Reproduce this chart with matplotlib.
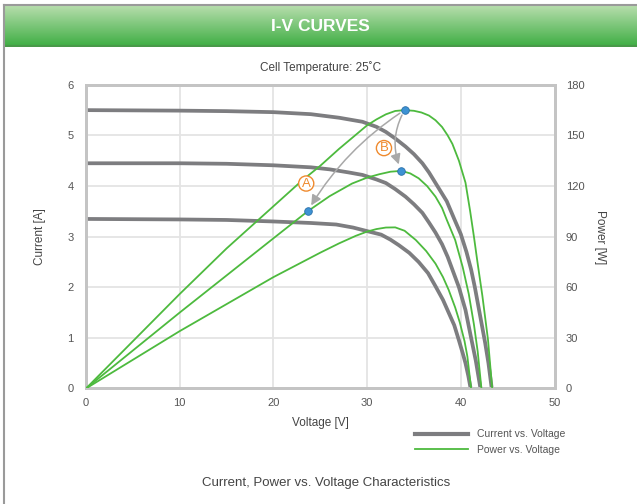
import matplotlib

matplotlib.use("Agg")
import matplotlib.pyplot as plt
import numpy as np
from matplotlib.lines import Line2D
from matplotlib.patches import FancyArrowPatch

plt.rcParams["font.family"] = ["Liberation Sans", "DejaVu Sans"]

# current vs voltage, three irradiance levels
v_i1 = [0, 10, 15, 20, 24, 27, 29.5, 31, 32, 33, 34.1, 35, 35.9, 36.6, 37.3, 37.9,
        38.5, 39.3, 40.0, 40.6, 41.1, 41.5, 41.9, 42.3, 42.6, 42.95, 43.3]
i_1 = [5.50, 5.49, 5.48, 5.46, 5.42, 5.35, 5.27, 5.17, 5.07, 4.94, 4.78, 4.63, 4.45, 4.27, 4.06, 3.88,
       3.70, 3.35, 3.05, 2.70, 2.35, 2.0, 1.6, 1.2, 0.9, 0.5, 0.0]
v_i2 = [0, 10, 15, 20, 24, 26, 28, 29.5, 31, 32, 33, 34.1, 35, 35.9, 36.6, 37.3, 38.0,
        38.6, 39.2, 39.8, 40.5, 41.1, 41.6, 42.1]
i_2 = [4.45, 4.45, 4.44, 4.41, 4.37, 4.33, 4.27, 4.22, 4.13, 4.06, 3.94, 3.79, 3.64, 3.47, 3.28, 3.08, 2.85,
       2.60, 2.30, 2.00, 1.55, 1.00, 0.55, 0.0]
v_i3 = [0, 10, 15, 20, 24, 26.7, 28.5, 30.2, 31.5, 32.5, 33.4, 34.5, 35.5, 36.5, 37.3, 38.1,
        38.7, 39.3, 39.8, 40.2, 40.5, 40.8, 41.05]
i_3 = [3.35, 3.34, 3.33, 3.30, 3.27, 3.24, 3.18, 3.10, 3.04, 2.94, 2.83, 2.68, 2.50, 2.28, 2.02, 1.75,
       1.50, 1.25, 0.95, 0.70, 0.50, 0.25, 0.0]

# power vs voltage
v_p1 = [0, 5, 10, 15, 20, 23, 25, 27, 28.5, 30, 31, 32, 33, 34, 35, 35.8, 36.6, 37.3, 38.0,
        38.6, 39.1, 39.8, 40.5, 41.0, 41.4, 41.8, 42.3, 42.9, 43.35]
p_1 = [0, 28, 56, 83, 108, 123, 132, 142, 149, 156, 159.5, 162.5, 164.5, 165, 164.6, 163.6, 161.8, 159, 155,
       150, 145, 135, 122, 105, 90, 74, 55, 29, 0]
v_p2 = [0, 5, 10, 15, 20, 23.65, 26, 28.4, 30, 31.3, 32.5, 33.65, 34.6, 35.5, 36.4, 37.3, 38.0,
        38.5, 39.4, 40.2, 40.85, 41.4, 41.8, 42.2]
p_2 = [0, 22.5, 45, 67, 89, 105, 114, 121.5, 125, 127, 128.5, 129, 127.5, 124.6, 120, 113.7, 107,
       100, 88, 72, 56, 38, 22, 0]
v_p3 = [0, 5, 10, 15, 20, 25, 27, 28.8, 30, 31, 32, 33, 34, 35.2, 36.3, 37.3, 38.1, 38.7,
        39.4, 39.9, 40.4, 40.7, 41.1]
p_3 = [0, 17, 34, 50, 66, 80.5, 86, 90.5, 93, 94.5, 95.4, 95.5, 93.5, 88, 81.5, 74, 66, 58.5,
       48, 39, 28, 19, 0]

# marked operating points: full power, case A, case B
mpp_v = [34.0, 23.65, 33.65]
mpp_p = [165, 105, 129]

GRAY = "#7d7d80"
GREEN = "#4dba3e"
ORANGE = "#ef8a2e"
TXT = "#444444"

fig = plt.figure(figsize=(6.37, 5.04), dpi=100)

# header band with gradient
hdr = fig.add_axes([0.0063, 0.9067, 0.9937, 0.0833])
top = np.array([0.72, 0.87, 0.68])
bot = np.array([0.24, 0.68, 0.26])
t = np.linspace(0, 1, 60)[:, None]
grad = top * (1 - t) + bot * t
grad[-3:] = [0.29, 0.60, 0.29]
hdr.imshow(grad[:, None, :], aspect="auto", extent=[0, 1, 0, 1])
hdr.set_axis_off()
hdr.text(0.5, 0.5, "I-V CURVES", color="white", fontsize=12.5, fontweight="bold",
         ha="center", va="center", transform=hdr.transAxes)

# page frame
fig.add_artist(Line2D([0.0063, 1], [0.990, 0.990], color="#9a9a9a", lw=1.5))
fig.add_artist(Line2D([0.0063, 0.0063], [0, 0.990], color="#9a9a9a", lw=1.5))

ax = fig.add_axes([0.135, 0.2292, 0.7355, 0.6025])
ax2 = ax.twinx()

for v, i in [(v_i1, i_1), (v_i2, i_2), (v_i3, i_3)]:
    ax.plot(v, i, color=GRAY, lw=2.7, solid_capstyle="butt", solid_joinstyle="round", zorder=3)
for v, p in [(v_p1, p_1), (v_p2, p_2), (v_p3, p_3)]:
    ax2.plot(v, p, color=GREEN, lw=1.3, solid_joinstyle="round", zorder=3)

ax.set_xlim(0, 50)
ax.set_ylim(0, 6)
ax2.set_ylim(0, 180)
ax.set_xticks(range(0, 51, 10))
ax.set_yticks(range(0, 7))
ax2.set_yticks(range(0, 181, 30))
ax.grid(True, color="#e4e4e4", lw=1.3)
ax.set_axisbelow(True)

for a in (ax, ax2):
    for s in a.spines.values():
        s.set_color("#c4c4c4")
        s.set_linewidth(2)
    a.tick_params(length=0, labelsize=8, labelcolor="#555555")
ax.tick_params(axis="x", pad=7)
ax.tick_params(axis="y", pad=9)
ax2.tick_params(axis="y", pad=8)

ax.set_title("Cell Temperature: 25˚C", fontsize=8.5, color=TXT, pad=10)
ax.set_xlabel("Voltage [V]", fontsize=8.5, color=TXT, labelpad=6)
ax.set_ylabel("Current [A]", fontsize=8.5, color=TXT, labelpad=15)
ax2.set_ylabel("Power [W]", fontsize=8.5, color=TXT, rotation=270, va="bottom", labelpad=7)

# arrows from the full-power point to A and B
arrow_kw = dict(arrowstyle="-|>,head_length=6,head_width=3", color="#a8a8a8", lw=1.1,
                shrinkA=4, shrinkB=5, zorder=4)
ax2.add_patch(FancyArrowPatch((mpp_v[0], mpp_p[0]), (mpp_v[1], mpp_p[1]),
                              connectionstyle="arc3,rad=0.12", **arrow_kw))
ax2.add_patch(FancyArrowPatch((mpp_v[0], mpp_p[0]), (mpp_v[2], mpp_p[2]),
                              connectionstyle="arc3,rad=0.25", **arrow_kw))
ax2.scatter(mpp_v, mpp_p, s=30, color="#3d92d4", edgecolor="#2a6fa8", lw=0.6, zorder=5)

circ = dict(boxstyle="circle,pad=0.12", fc="white", ec=ORANGE, lw=1.0)
ax2.text(23.5, 121.5, "A", color=ORANGE, fontsize=9.5, ha="center", va="center", bbox=circ, zorder=6)
ax2.text(31.8, 142.5, "B", color=ORANGE, fontsize=9.5, ha="center", va="center", bbox=circ, zorder=6)

handles = [Line2D([], [], color=GRAY, lw=3), Line2D([], [], color=GREEN, lw=1.3)]
fig.legend(handles, ["Current vs. Voltage", "Power vs. Voltage"], loc="center left",
           bbox_to_anchor=(0.651, 0.123), frameon=False, fontsize=7.5, handlelength=5.1,
           handletextpad=0.9, labelspacing=0.5, borderpad=0, borderaxespad=0, labelcolor="#555555")

fig.text(0.512, 0.042, "Current, Power vs. Voltage Characteristics", fontsize=9.5, color=TXT,
         ha="center", va="center")

fig.savefig("out.png", dpi=100)
